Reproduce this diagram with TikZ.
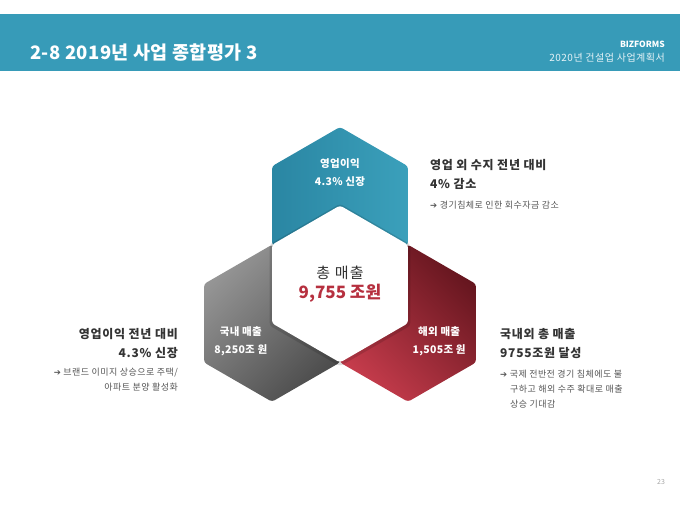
\documentclass[tikz,border=0pt]{standalone}
\usepackage{fontspec}
\setmainfont{Noto Sans CJK KR}
\newfontfamily\arrowfont{DejaVu Sans}
\usepackage{tikz}
\usetikzlibrary{
  positioning,
  calc, shapes.geometric,
  shadows
}
\definecolor{bandteal}{HTML}{379BB8}
\definecolor{tealdark}{HTML}{2A86A3}
\definecolor{teallight}{HTML}{3BA0BB}
\definecolor{greylight}{HTML}{959595}
\definecolor{greydark}{HTML}{4C4C4C}
\definecolor{reddark}{HTML}{66161F}
\definecolor{redlight}{HTML}{C63C4C}
\definecolor{valred}{HTML}{B6303F}
\definecolor{textdark}{HTML}{333333}
\definecolor{notegrey}{HTML}{555555}
\tikzset{
  hexbase/.style={
    regular polygon,
    regular polygon sides=6,
    shape border rotate=30,
    minimum size=157pt,
    inner sep=0pt,
    outer sep=0pt,
    rounded corners=3pt,
  },
  hexcore/.style={
    hexbase,
    fill=white,
    drop shadow={shadow xshift=0pt, shadow yshift=-1pt,
      shadow scale=1.035, fill=black, opacity=0.13},
    align=center,
  },
  hexlabel/.style={
    font=\fontsize{10.5}{18}\selectfont\bfseries\addfontfeature{LetterSpace=3},
    text=white,
    align=center,
    inner sep=0pt,
  },
  headline/.style={
    font=\fontsize{12}{19.5}\selectfont\bfseries\addfontfeature{LetterSpace=6},
    text=textdark,
    inner sep=0pt,
  },
  note/.style={
    font=\fontsize{9}{15}\selectfont\addfontfeature{LetterSpace=5},
    text=notegrey,
    inner sep=0pt,
  },
}
\newcommand{\notearrow}{{\arrowfont\bfseries\fontsize{8.5}{10}\selectfont ➔}\ }

\begin{document}
\begin{tikzpicture}[x=1pt,y=1pt]
		\useasboundingbox (0,0) rectangle (680,510);
		\def\rad{78.5}

		% header band
		\fill[bandteal] (0,439) rectangle (680,496);
		\node[anchor=west, inner sep=0pt, text=white, font=\fontsize{18.5}{20}\selectfont\bfseries\addfontfeature{LetterSpace=2}] (title) at (30,457) {2-8 2019년 사업 종합평가 3};
		\node[anchor=east, inner sep=0pt, text=white, font=\fontsize{8.5}{10}\selectfont\bfseries] (brand) at (665,466) {BIZFORMS};
		\node[anchor=east, inner sep=0pt, text=white!88!bandteal, font=\fontsize{10}{10}\selectfont\addfontfeature{LetterSpace=5}] (doc) at (665,452) {2020년 건설업 사업계획서};

		% hexagons
		\coordinate (c) at (340,226);
		\node[hexbase, left color=tealdark, right color=teallight] (profit) at ($(c)+(90:\rad)$) {};
		\node[hexbase, top color=greylight, bottom color=greydark, shading angle=45] (domestic) at ($(c)+(210:\rad)$) {};
		\node[hexbase, top color=reddark, bottom color=redlight, shading angle=-45] (overseas) at ($(c)+(330:\rad)$) {};
		\node[hexcore] (total) at (c) {{\fontsize{15}{24}\selectfont\addfontfeature{LetterSpace=8}\color{textdark}총 매출}\\[3.5pt]{\fontsize{17}{24}\selectfont\bfseries\color{valred}9,755 조원}};

		\node[hexlabel] (profitlbl) at ($(profit)+(90:33)$) {영업이익\\4.3\% 신장};
		\node[hexlabel] (domesticlbl) at ($(domestic)+(210:36)$) {국내 매출\\8,250조 원};
		\node[hexlabel] (overseaslbl) at ($(overseas)+(330:36)$) {해외 매출\\1,505조 원};

		% side notes
		\node[headline, anchor=north west, align=left] (trhead) at (430,351) {영업 외 수지 전년 대비\\4\% 감소};
		\node[note, below right=11pt and 0pt of trhead.south west, align=left] (trnote) {\notearrow 경기침체로 인한 회수자금 감소};

		\node[headline, anchor=north east, align=right] (lhead) at (178,182) {영업이익 전년 대비\\4.3\% 신장};
		\node[note, below left=9pt and 0pt of lhead.south east, align=right] (lnote) {\notearrow 브랜드 이미지 상승으로 주택/\\아파트 분양 활성화};

		\node[headline, anchor=north west, align=left] (rhead) at (500,182) {국내외 총 매출\\9755조원 달성};
		\node[note, below right=10.5pt and 0pt of rhead.south west, align=left] (rnote) {\notearrow 국제 전반전 경기 침체에도 불\\\hspace*{10pt}구하고 해외 수주 확대로 매출\\\hspace*{10pt}상승 기대감};

		% page number
		\node[text=black!35, font=\fontsize{7}{8}\selectfont] (page) at (661,28) {23};
	\end{tikzpicture}
\end{document}
